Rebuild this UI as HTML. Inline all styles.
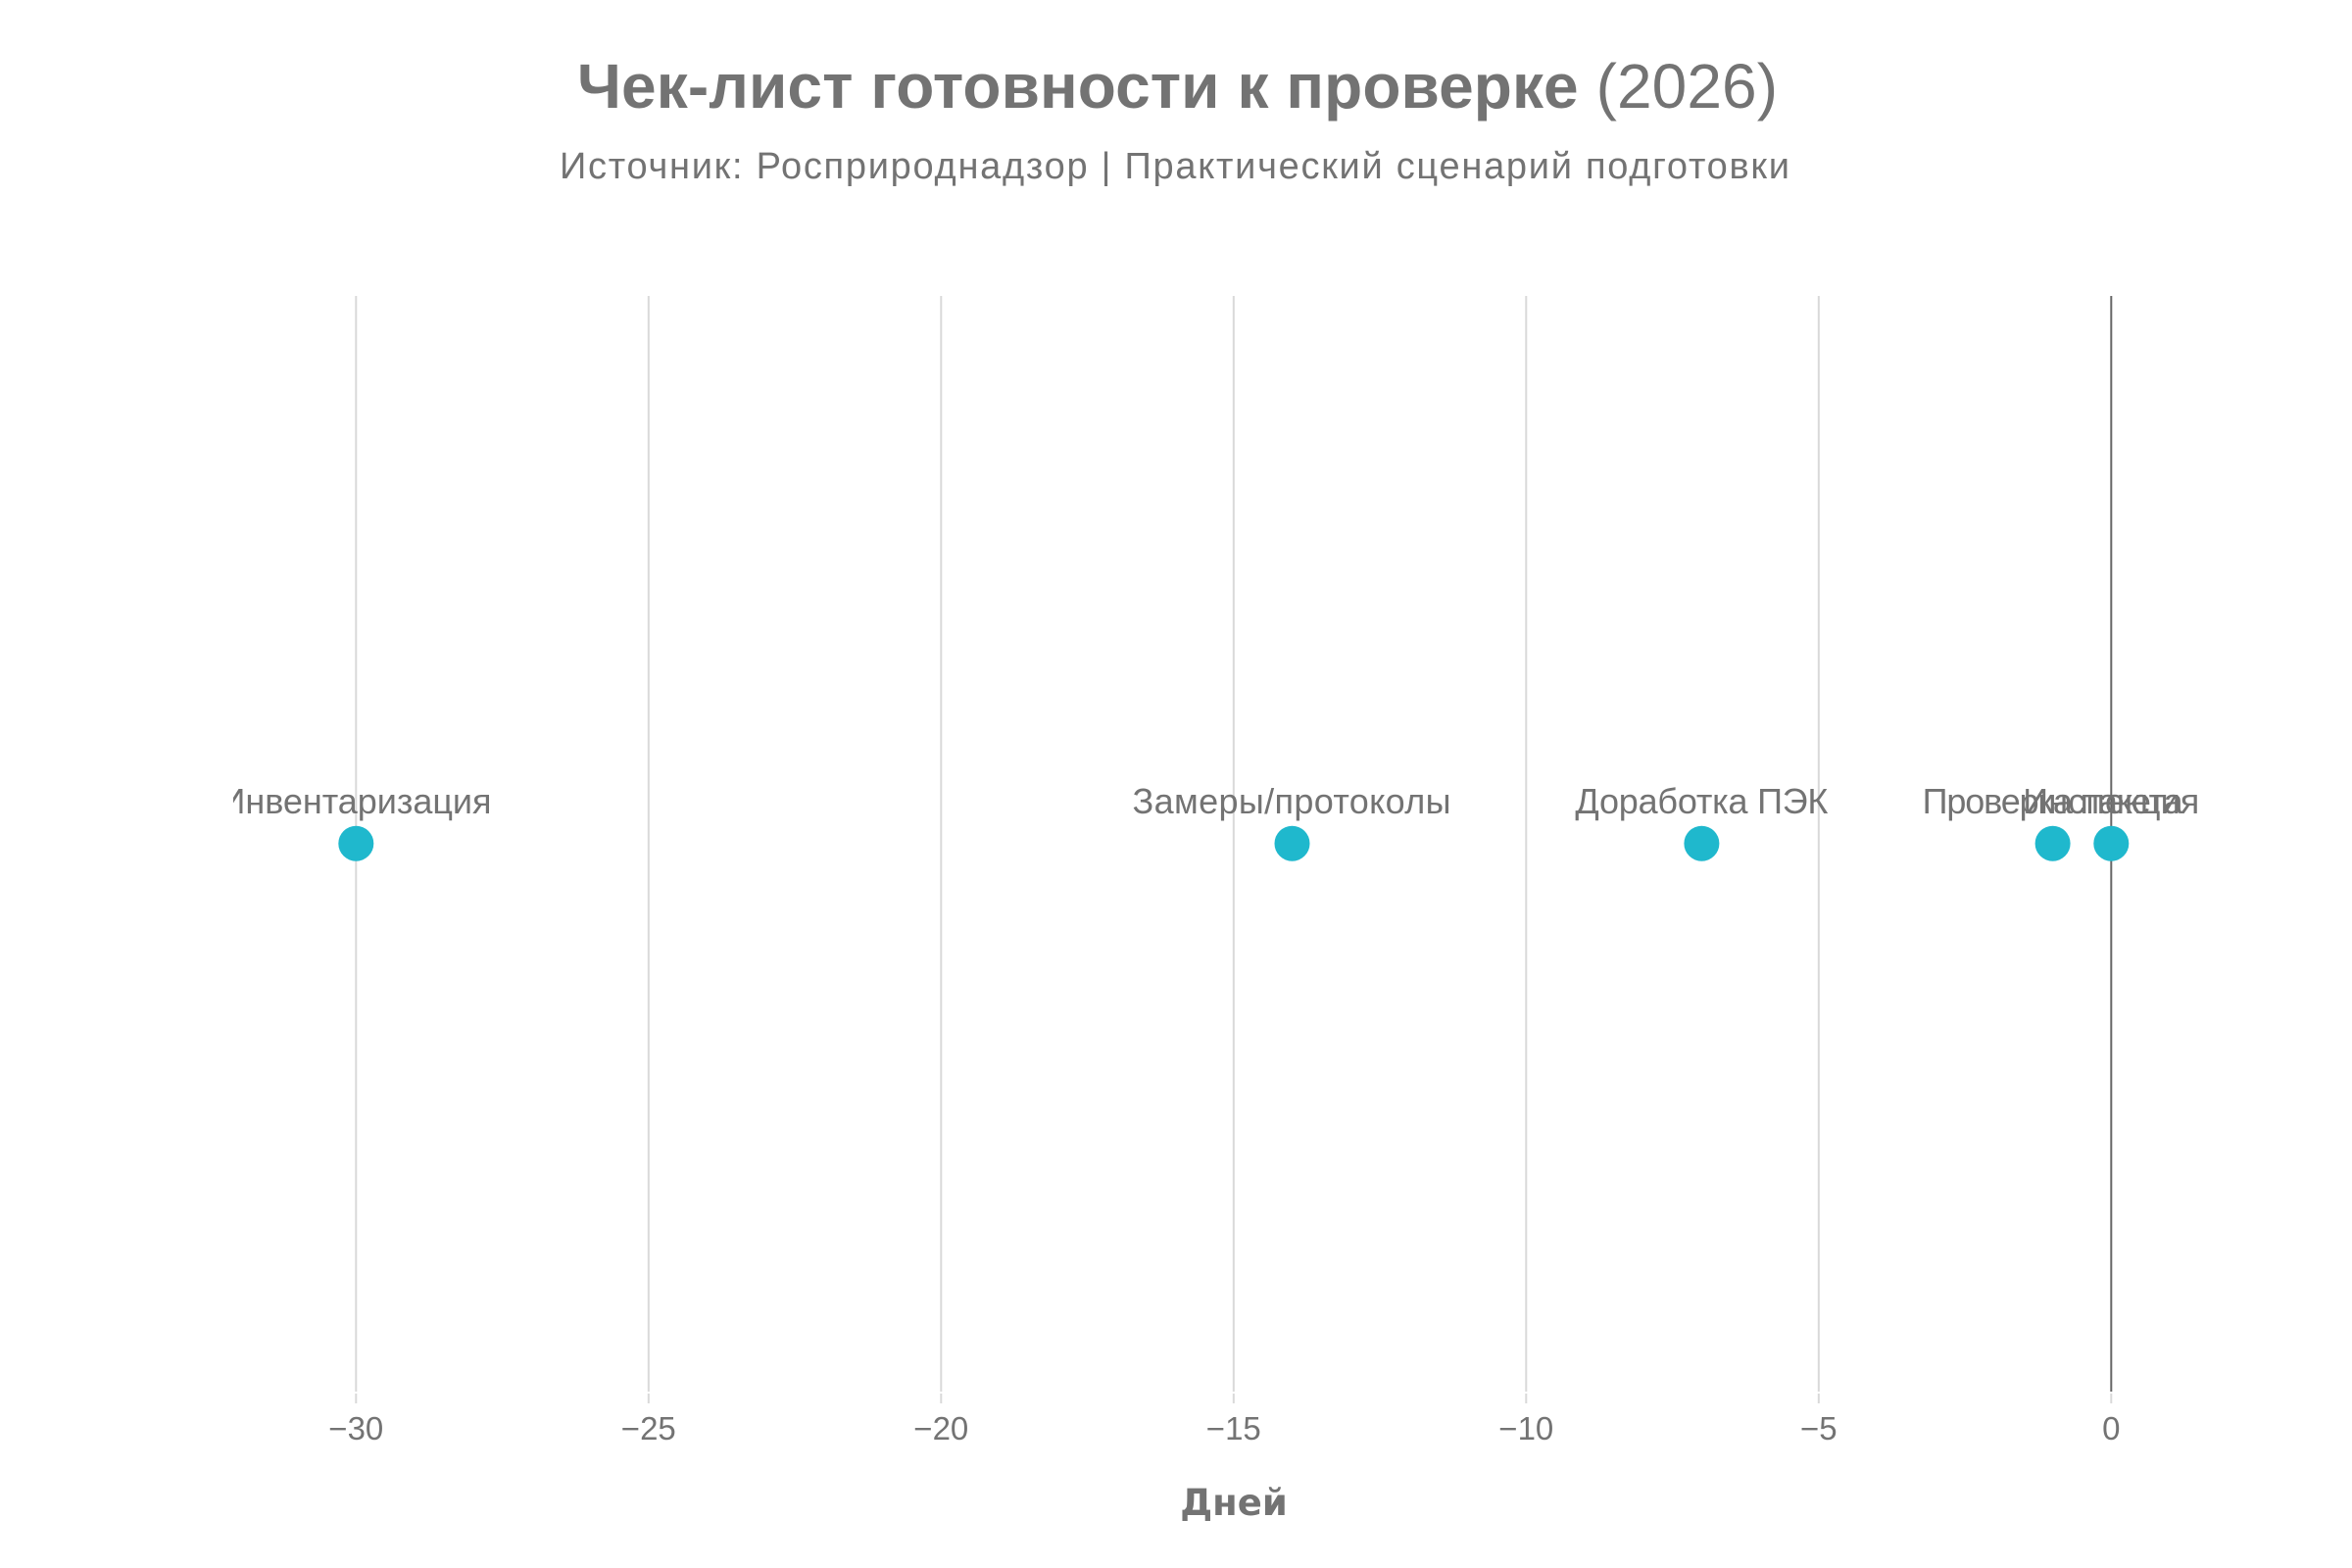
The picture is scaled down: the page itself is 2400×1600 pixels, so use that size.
<!DOCTYPE html>
<html>
<head>
<meta charset="utf-8">
<style>
  html, body { margin: 0; padding: 0; background: #ffffff; }
  svg { display: block; }
  text { font-family: "Liberation Sans", "DejaVu Sans", sans-serif; }
</style>
</head>
<body>
<svg width="2400" height="1600" viewBox="0 0 2400 1600" xmlns="http://www.w3.org/2000/svg">
  <defs>
    <clipPath id="plotclip">
      <rect x="238" y="302" width="2042" height="1118"/>
    </clipPath>
  </defs>
  <rect x="0" y="0" width="2400" height="1600" fill="#ffffff"/>

  <!-- Title -->
  <text x="589" y="110" font-size="64" fill="#737373" textLength="1225" lengthAdjust="spacing"><tspan font-weight="bold">Чек-лист готовности к проверке</tspan> (2026)</text>

  <!-- Subtitle -->
  <text x="571" y="182" font-size="38" fill="#737373" textLength="1255" lengthAdjust="spacing">Источник: Росприроднадзор | Практический сценарий подготовки</text>

  <!-- Grid lines -->
  <g stroke="#d9d9d9" stroke-width="2">
    <line x1="363.3" y1="302" x2="363.3" y2="1420"/>
    <line x1="661.8" y1="302" x2="661.8" y2="1420"/>
    <line x1="960.3" y1="302" x2="960.3" y2="1420"/>
    <line x1="1258.8" y1="302" x2="1258.8" y2="1420"/>
    <line x1="1557.3" y1="302" x2="1557.3" y2="1420"/>
    <line x1="1855.8" y1="302" x2="1855.8" y2="1420"/>
  </g>
  <!-- Tick marks -->
  <g stroke="#d9d9d9" stroke-width="2">
    <line x1="363.3" y1="1422" x2="363.3" y2="1432"/>
    <line x1="661.8" y1="1422" x2="661.8" y2="1432"/>
    <line x1="960.3" y1="1422" x2="960.3" y2="1432"/>
    <line x1="1258.8" y1="1422" x2="1258.8" y2="1432"/>
    <line x1="1557.3" y1="1422" x2="1557.3" y2="1432"/>
    <line x1="1855.8" y1="1422" x2="1855.8" y2="1432"/>
    <line x1="2154.3" y1="1422" x2="2154.3" y2="1432"/>
  </g>
  <!-- Zero line -->
  <line x1="2154.3" y1="302" x2="2154.3" y2="1420" stroke="#666666" stroke-width="2"/>

  <!-- Tick labels -->
  <g font-size="33" fill="#737373" text-anchor="middle">
    <text x="363.3" y="1469">−30</text>
    <text x="661.8" y="1469">−25</text>
    <text x="960.3" y="1469">−20</text>
    <text x="1258.8" y="1469">−15</text>
    <text x="1557.3" y="1469">−10</text>
    <text x="1855.8" y="1469">−5</text>
    <text x="2154.3" y="1469">0</text>
  </g>

  <!-- Axis title -->
  <text x="1259" y="1546" font-size="37" font-weight="bold" fill="#737373" text-anchor="middle" style="font-family:'DejaVu Sans','Liberation Sans',sans-serif">Дней</text>

  <!-- Markers -->
  <g fill="#1FB8CD">
    <circle cx="363.3" cy="860.7" r="18"/>
    <circle cx="1318.5" cy="860.7" r="18"/>
    <circle cx="1736.4" cy="860.7" r="18"/>
    <circle cx="2094.6" cy="860.7" r="18"/>
    <circle cx="2154.3" cy="860.7" r="18"/>
  </g>

  <!-- Point labels -->
  <g clip-path="url(#plotclip)" font-size="36" fill="#737373">
    <text x="224.5" y="830" textLength="277" lengthAdjust="spacing">Инвентаризация</text>
    <text x="1155.5" y="830" textLength="325" lengthAdjust="spacing">Замеры/протоколы</text>
    <text x="1607.4" y="830" textLength="258" lengthAdjust="spacing">Доработка ПЭК</text>
    <text x="1961.6" y="830" textLength="266" lengthAdjust="spacing">Проверка пакета</text>
    <text x="2064.3" y="830" textLength="180" lengthAdjust="spacing">Инспекция</text>
  </g>
</svg>
</body>
</html>
